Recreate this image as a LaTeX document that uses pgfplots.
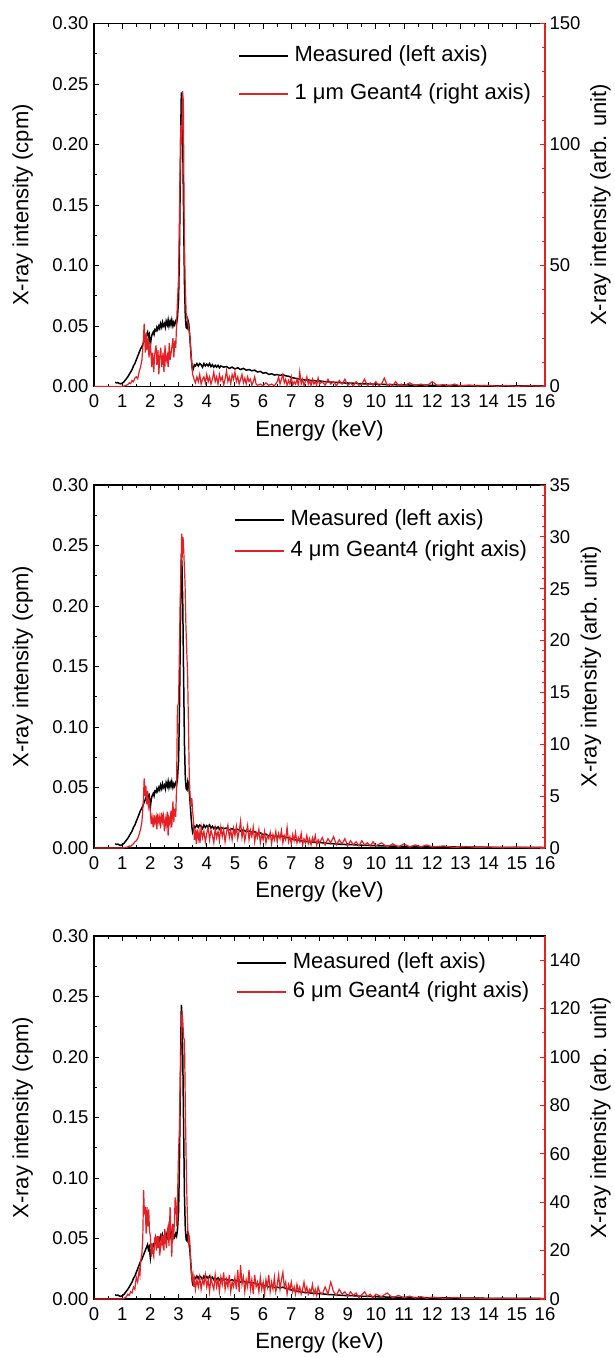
\documentclass[border=0pt]{standalone}
\usepackage{fontspec}
\setmainfont{Liberation Sans}
\usepackage{pgfplots}
\pgfplotsset{compat=1.18}
\usepackage{pgfplotstable}
\definecolor{myred}{RGB}{228,32,36}

\pgfplotstableread[row sep=\\]{
x y\\
0.75 0.0035\\ 0.8 0.003\\ 0.85 0.0032\\ 0.9 0.0025\\ 0.95 0.0022\\ 1.0 0.0028\\ 1.05 0.0035\\ 1.1 0.005\\ 1.15 0.0065\\ 1.2 0.008\\
1.25 0.010\\ 1.3 0.012\\ 1.35 0.014\\ 1.4 0.017\\ 1.45 0.019\\ 1.5 0.022\\ 1.55 0.025\\ 1.6 0.028\\ 1.65 0.031\\ 1.7 0.033\\
1.75 0.036\\ 1.8 0.039\\ 1.85 0.042\\ 1.9 0.045\\ 1.93 0.041\\ 1.96 0.043\\ 2.0 0.034\\ 2.03 0.040\\ 2.06 0.043\\ 2.1 0.045\\
2.13 0.043\\ 2.16 0.047\\ 2.2 0.046\\ 2.23 0.049\\ 2.26 0.047\\ 2.3 0.050\\ 2.33 0.048\\ 2.36 0.052\\ 2.4 0.049\\ 2.43 0.053\\
2.46 0.050\\ 2.5 0.052\\ 2.53 0.049\\ 2.56 0.054\\ 2.6 0.051\\ 2.63 0.055\\ 2.66 0.050\\ 2.7 0.054\\ 2.73 0.051\\ 2.76 0.055\\
2.8 0.050\\ 2.83 0.053\\ 2.86 0.051\\ 2.9 0.054\\ 2.93 0.052\\ 2.96 0.057\\ 3.0 0.072\\ 3.03 0.11\\ 3.06 0.17\\ 3.09 0.232\\
3.1 0.243\\ 3.12 0.235\\ 3.15 0.20\\ 3.18 0.14\\ 3.21 0.085\\ 3.24 0.058\\ 3.27 0.049\\ 3.3 0.048\\ 3.33 0.055\\ 3.36 0.052\\
3.39 0.044\\ 3.42 0.034\\ 3.45 0.024\\ 3.48 0.016\\ 3.5 0.013\\ 3.53 0.015\\ 3.56 0.018\\ 3.6 0.017\\ 3.65 0.019\\ 3.7 0.017\\
3.75 0.019\\ 3.8 0.018\\ 3.85 0.016\\ 3.9 0.019\\ 3.95 0.017\\ 4.0 0.0185\\ 4.05 0.017\\ 4.1 0.019\\ 4.15 0.0165\\ 4.2 0.018\\
4.25 0.016\\ 4.3 0.0175\\ 4.35 0.016\\ 4.4 0.0175\\ 4.45 0.0155\\ 4.5 0.017\\ 4.6 0.016\\ 4.7 0.0165\\ 4.8 0.015\\ 4.9 0.016\\
5.0 0.0145\\ 5.1 0.0155\\ 5.2 0.014\\ 5.3 0.015\\ 5.4 0.0135\\ 5.5 0.014\\ 5.6 0.013\\ 5.7 0.0135\\ 5.8 0.012\\ 5.9 0.0125\\
6.0 0.011\\ 6.1 0.0115\\ 6.2 0.010\\ 6.3 0.0105\\ 6.4 0.0095\\ 6.5 0.0098\\ 6.6 0.0092\\ 6.7 0.0098\\ 6.8 0.0088\\ 6.9 0.0085\\
7.0 0.0075\\ 7.1 0.007\\ 7.2 0.0065\\ 7.3 0.006\\ 7.4 0.0058\\ 7.5 0.0052\\ 7.6 0.0055\\ 7.7 0.0048\\ 7.8 0.005\\ 7.9 0.0044\\
8.0 0.0046\\ 8.2 0.004\\ 8.4 0.0036\\ 8.6 0.0034\\ 8.8 0.003\\ 9.0 0.0028\\ 9.2 0.0027\\ 9.4 0.0024\\ 9.6 0.0022\\ 9.8 0.0021\\
10.0 0.0019\\ 10.2 0.0018\\ 10.4 0.0016\\ 10.6 0.0015\\ 10.8 0.0014\\ 11.0 0.0013\\ 11.3 0.0012\\ 11.6 0.0011\\ 12.0 0.001\\ 12.5 0.0009\\
13.0 0.0008\\ 13.5 0.0007\\ 14.0 0.0006\\ 14.5 0.0006\\ 15.0 0.0005\\ 15.5 0.0005\\ 16.0 0.0004\\
}\measured

\pgfplotstableread[row sep=\\]{
x y\\
0 0\\ 0.5 0\\ 1.0 0\\ 1.1 0.3\\ 1.2 0.8\\ 1.25 1.5\\ 1.3 1.2\\ 1.35 2.5\\ 1.4 2.0\\ 1.45 3.5\\ 1.5 4.0\\ 1.55 3.2\\ 1.6 6.0\\ 1.65 8.0\\ 1.7 11\\ 1.75 19\\ 1.78 26\\ 1.82 14\\ 1.85 22\\ 1.88 15\\
1.92 20\\ 1.95 12\\ 2.0 18\\ 2.05 8\\ 2.08 14\\ 2.12 6\\ 2.15 13\\ 2.2 17\\ 2.23 9\\ 2.27 15\\ 2.3 5\\ 2.33 12\\ 2.37 16\\ 2.4 8\\ 2.45 14\\ 2.48 6\\ 2.52 17\\ 2.55 10\\ 2.6 13\\ 2.63 8\\
2.67 18\\ 2.7 11\\ 2.75 15\\ 2.8 20\\ 2.83 12\\ 2.87 19\\ 2.9 16\\ 2.95 32\\ 3.0 45\\ 3.05 85\\ 3.08 108\\ 3.11 100\\ 3.14 122\\ 3.17 118\\ 3.2 66\\ 3.23 45\\ 3.27 30\\ 3.3 28\\ 3.35 25\\ 3.4 21\\
3.45 12\\ 3.5 5\\ 3.55 3\\ 3.6 1.5\\ 3.65 4\\ 3.7 2\\ 3.75 5\\ 3.8 1\\ 3.85 3\\ 3.9 4\\ 3.95 1.5\\ 4.0 5\\ 4.05 2\\ 4.1 4\\ 4.15 1\\ 4.2 3\\ 4.25 6\\ 4.3 2\\ 4.35 4\\ 4.4 1\\
4.45 5\\ 4.5 2.5\\ 4.55 4\\ 4.6 0.5\\ 4.65 3\\ 4.7 6.5\\ 4.75 2\\ 4.8 4\\ 4.85 1\\ 4.9 5\\ 4.95 3\\ 5.0 6\\ 5.05 2\\ 5.1 4\\ 5.15 1\\ 5.2 3\\ 5.25 5\\ 5.3 1.5\\ 5.35 3.5\\ 5.4 1\\
5.45 4\\ 5.5 2\\ 5.55 3\\ 5.6 0.5\\ 5.65 2\\ 5.7 4\\ 5.75 1\\ 5.8 0.5\\ 5.9 1\\ 6.0 0.3\\ 6.1 1.5\\ 6.2 0.5\\ 6.3 1\\ 6.4 0.3\\ 6.5 2\\ 6.55 4\\ 6.6 1\\ 6.65 3\\ 6.7 5\\ 6.75 1.5\\
6.8 3\\ 6.85 0.5\\ 6.9 2.5\\ 6.95 1\\ 7.0 4\\ 7.05 0.5\\ 7.1 2\\ 7.15 1\\ 7.2 3\\ 7.25 0.3\\ 7.3 6\\ 7.35 1\\ 7.4 3\\ 7.45 0.5\\ 7.5 2\\ 7.55 4\\ 7.6 1\\ 7.65 2.5\\ 7.7 0.3\\ 7.75 3\\
7.8 1\\ 7.85 2\\ 7.9 0.5\\ 7.95 3.5\\ 8.0 1\\ 8.1 2\\ 8.2 0.5\\ 8.3 3\\ 8.4 1\\ 8.5 2\\ 8.6 0.3\\ 8.7 2.5\\ 8.8 1\\ 8.9 3\\ 9.0 0.5\\ 9.1 1.5\\ 9.2 0.3\\ 9.3 2\\ 9.4 0.5\\ 9.5 1\\
9.6 3\\ 9.7 0.3\\ 9.8 1.5\\ 9.9 0.5\\ 10.0 2\\ 10.1 0.3\\ 10.2 1\\ 10.3 3.5\\ 10.4 0.5\\ 10.5 1\\ 10.6 0.3\\ 10.7 2\\ 10.8 0.5\\ 10.9 1\\ 11.0 0.3\\ 11.2 1.5\\ 11.4 0.3\\ 11.6 1\\ 11.8 0.2\\ 12.0 2\\
12.2 0.3\\ 12.4 0.8\\ 12.6 0.2\\ 12.8 1\\ 13.0 0.2\\ 13.3 0.6\\ 13.6 0.2\\ 14.0 0.5\\ 14.3 0.1\\ 14.6 0.4\\ 15.0 0.1\\ 15.5 0.3\\ 16.0 0.1\\
}\simA

\pgfplotstableread[row sep=\\]{
x y\\
0 0\\ 0.5 0\\ 1.0 0\\ 1.1 0.05\\ 1.2 0.1\\ 1.25 0.2\\ 1.3 0.15\\ 1.35 0.3\\ 1.4 0.4\\ 1.45 0.6\\ 1.5 0.7\\ 1.55 0.9\\ 1.6 1.3\\ 1.65 1.8\\ 1.7 2.5\\ 1.75 4.5\\ 1.78 6.7\\ 1.81 5.0\\ 1.84 6.0\\ 1.87 4.2\\
1.9 5.5\\ 1.93 4.0\\ 1.96 4.5\\ 2.0 3.4\\ 2.03 2.3\\ 2.06 3.0\\ 2.1 2.0\\ 2.13 3.2\\ 2.16 2.4\\ 2.2 3.0\\ 2.23 1.8\\ 2.26 3.3\\ 2.3 2.5\\ 2.33 3.0\\ 2.36 1.9\\ 2.4 3.4\\ 2.43 2.6\\ 2.46 3.1\\ 2.5 1.6\\ 2.53 2.8\\
2.56 2.2\\ 2.6 3.5\\ 2.63 1.2\\ 2.66 2.9\\ 2.7 2.3\\ 2.73 3.6\\ 2.76 2.0\\ 2.8 4.5\\ 2.83 2.5\\ 2.86 3.8\\ 2.9 3.0\\ 2.93 6.0\\ 2.96 13.6\\ 3.0 14\\ 3.03 19\\ 3.06 24.2\\ 3.09 27\\ 3.11 30.3\\ 3.13 28\\ 3.15 30\\
3.17 29.6\\ 3.2 27.5\\ 3.23 25.5\\ 3.26 21.5\\ 3.29 19\\ 3.32 16.9\\ 3.35 12\\ 3.38 7\\ 3.41 4.9\\ 3.44 4.0\\ 3.47 4.8\\ 3.5 3.5\\ 3.53 2.7\\ 3.56 0.8\\ 3.6 1.5\\ 3.63 0.4\\ 3.66 1.8\\ 3.7 0.9\\ 3.73 1.5\\ 3.76 0.5\\
3.8 2.0\\ 3.85 1.0\\ 3.9 1.6\\ 3.95 0.6\\ 4.0 1.4\\ 4.05 2.0\\ 4.1 0.8\\ 4.15 1.7\\ 4.2 1.2\\ 4.25 0.5\\ 4.3 1.9\\ 4.35 1.0\\ 4.4 1.6\\ 4.45 0.7\\ 4.5 2.0\\ 4.55 1.1\\ 4.6 1.8\\ 4.65 0.6\\ 4.7 1.5\\ 4.75 2.2\\
4.8 1.0\\ 4.85 1.7\\ 4.9 0.8\\ 4.95 1.9\\ 5.0 1.2\\ 5.05 2.1\\ 5.1 0.9\\ 5.15 1.6\\ 5.2 2.6\\ 5.25 1.0\\ 5.3 1.8\\ 5.35 0.7\\ 5.4 1.5\\ 5.45 2.2\\ 5.5 0.8\\ 5.55 1.7\\ 5.6 1.1\\ 5.65 2.0\\ 5.7 0.6\\ 5.75 1.5\\
5.8 1.0\\ 5.85 1.8\\ 5.9 0.5\\ 5.95 1.3\\ 6.0 0.8\\ 6.05 1.6\\ 6.1 0.5\\ 6.15 1.2\\ 6.2 0.9\\ 6.25 1.5\\ 6.3 0.4\\ 6.35 1.3\\ 6.4 0.8\\ 6.45 1.6\\ 6.5 0.6\\ 6.55 1.4\\ 6.6 0.9\\ 6.65 1.7\\ 6.7 0.5\\ 6.75 1.2\\
6.8 0.8\\ 6.85 2.0\\ 6.9 0.6\\ 6.95 1.1\\ 7.0 0.4\\ 7.05 1.3\\ 7.1 0.7\\ 7.15 1.5\\ 7.2 0.5\\ 7.25 1.0\\ 7.3 0.6\\ 7.35 1.4\\ 7.4 0.3\\ 7.45 0.9\\ 7.5 0.5\\ 7.55 1.2\\ 7.6 0.4\\ 7.65 0.9\\ 7.7 0.3\\ 7.75 1.0\\
7.8 0.6\\ 7.85 1.2\\ 7.9 0.3\\ 7.95 0.8\\ 8.0 0.5\\ 8.1 1.0\\ 8.2 0.3\\ 8.3 0.9\\ 8.4 0.5\\ 8.5 1.1\\ 8.6 0.3\\ 8.7 0.8\\ 8.8 0.4\\ 8.9 0.9\\ 9.0 0.2\\ 9.1 0.7\\ 9.2 0.3\\ 9.3 0.6\\ 9.4 0.2\\ 9.5 0.7\\
9.6 0.3\\ 9.7 0.5\\ 9.8 0.2\\ 9.9 0.6\\ 10.0 0.2\\ 10.2 0.5\\ 10.4 0.1\\ 10.6 0.4\\ 10.8 0.1\\ 11.0 0.4\\ 11.2 0.1\\ 11.4 0.3\\ 11.6 0.1\\ 11.8 0.3\\ 12.0 0.1\\ 12.4 0.2\\ 12.8 0.05\\ 13.2 0.15\\ 13.6 0.05\\ 14.0 0.1\\
14.5 0.03\\ 15.0 0.08\\ 15.5 0.02\\ 16.0 0.05\\
}\simB

\pgfplotstableread[row sep=\\]{
x y\\
0 0\\ 0.5 0\\ 1.0 0\\ 1.1 0.5\\ 1.15 1\\ 1.2 2\\ 1.25 1.5\\ 1.3 3\\ 1.35 2.5\\ 1.4 5\\ 1.45 4\\ 1.5 9\\ 1.55 7\\ 1.6 12\\ 1.63 10\\ 1.66 16\\ 1.7 19\\ 1.73 25\\ 1.76 45\\ 1.79 35\\
1.82 38\\ 1.85 27\\ 1.88 38\\ 1.91 30\\ 1.94 37\\ 1.97 28\\ 2.0 26\\ 2.03 17.5\\ 2.06 23\\ 2.09 19\\ 2.12 17.5\\ 2.15 25\\ 2.18 26\\ 2.21 20\\ 2.24 26\\ 2.27 21\\ 2.3 26\\ 2.33 18\\ 2.36 21\\ 2.39 27\\
2.42 23\\ 2.45 26\\ 2.48 20\\ 2.51 29\\ 2.54 24\\ 2.57 21\\ 2.6 28\\ 2.63 30\\ 2.66 22\\ 2.7 38\\ 2.73 26\\ 2.76 17.5\\ 2.79 31\\ 2.82 25\\ 2.85 31\\ 2.88 42\\ 2.91 38\\ 2.94 30\\ 2.97 45\\ 3.0 61\\
3.03 70\\ 3.06 90\\ 3.09 105\\ 3.12 119\\ 3.15 115\\ 3.18 108\\ 3.21 107\\ 3.24 80\\ 3.27 57\\ 3.3 40\\ 3.33 28\\ 3.36 23\\ 3.39 25\\ 3.42 18\\ 3.45 12\\ 3.48 8\\ 3.51 10\\ 3.54 5\\ 3.57 8\\ 3.6 4\\
3.65 8\\ 3.7 5\\ 3.75 9\\ 3.8 4\\ 3.85 8\\ 3.9 6\\ 3.95 10\\ 4.0 5\\ 4.05 8\\ 4.1 3\\ 4.15 9\\ 4.2 6\\ 4.25 4\\ 4.3 10\\ 4.35 5\\ 4.4 8\\ 4.45 3\\ 4.5 9\\ 4.55 6\\ 4.6 11\\
4.65 4\\ 4.7 8\\ 4.75 5\\ 4.8 10\\ 4.85 3\\ 4.9 7\\ 4.95 5\\ 5.0 9\\ 5.05 4\\ 5.1 12\\ 5.15 3\\ 5.2 14\\ 5.25 6\\ 5.3 9\\ 5.35 3\\ 5.4 8\\ 5.45 5\\ 5.5 12\\ 5.55 4\\ 5.6 8\\
5.65 2\\ 5.7 10\\ 5.75 5\\ 5.8 7\\ 5.85 3\\ 5.9 9\\ 5.95 4\\ 6.0 7\\ 6.05 2\\ 6.1 8\\ 6.15 5\\ 6.2 10\\ 6.25 3\\ 6.3 7\\ 6.35 4\\ 6.4 9\\ 6.45 3\\ 6.5 6\\ 6.55 10\\ 6.6 4\\
6.65 8\\ 6.7 11\\ 6.75 5\\ 6.8 7\\ 6.85 2\\ 6.9 6\\ 6.95 4\\ 7.0 7\\ 7.05 3\\ 7.1 5\\ 7.15 2\\ 7.2 6\\ 7.25 3\\ 7.3 5\\ 7.35 2\\ 7.4 4\\ 7.45 7\\ 7.5 3\\ 7.55 5\\ 7.6 2\\
7.65 4\\ 7.7 3\\ 7.75 6\\ 7.8 2\\ 7.85 4\\ 7.9 1.5\\ 7.95 5\\ 8.0 3\\ 8.1 2\\ 8.2 5\\ 8.3 2\\ 8.4 7\\ 8.5 3\\ 8.6 1.5\\ 8.7 4\\ 8.8 2\\ 8.9 3\\ 9.0 1\\ 9.1 3\\ 9.2 1.5\\
9.3 2.5\\ 9.4 0.5\\ 9.6 3\\ 9.7 1\\ 9.8 2\\ 9.9 0.5\\ 10.0 2\\ 10.2 1\\ 10.4 2.5\\ 10.6 0.5\\ 10.8 1.5\\ 11.0 0.5\\ 11.2 1.2\\ 11.4 0.4\\ 11.6 1\\ 11.8 0.3\\ 12.0 0.8\\ 12.4 0.3\\ 12.8 0.6\\ 13.2 0.2\\
13.6 0.4\\ 14.0 0.1\\ 14.5 0.3\\ 15.0 0.1\\ 15.5 0.2\\ 16.0 0.1\\
}\simC

\pgfplotsset{
  /pgf/number format/assume math mode=true,
  common/.style={
    scale only axis, width=451pt, height=363pt, anchor=south west,
    xmin=0, xmax=16,
    tick align=inside,
    major tick length=5pt, minor tick length=3pt,
    tick label style={font=\fontsize{18.5}{22}\selectfont},
    label style={font=\fontsize{22}{26}\selectfont},
  },
  leftax/.style={
    common,
    ymin=0, ymax=0.30,
    xtick={0,1,...,16}, minor x tick num=1,
    ytick={0,0.05,0.1,0.15,0.2,0.25,0.3},
    yticklabels={0.00,0.05,0.10,0.15,0.20,0.25,0.30},
    minor y tick num=1,
    ytick pos=left,
    axis line style={line width=1.3pt},
    tick style={black, line width=1pt},
    xticklabel style={yshift=-5pt},
    yticklabel style={xshift=-2pt},
    xlabel={Energy (keV)}, ylabel={X-ray intensity (cpm)},
    xlabel style={at={(axis description cs:0.5,-0.122)}, anchor=center},
    ylabel style={at={(axis description cs:-0.158,0.5)}, anchor=center},
  },
  rightax/.style={
    common,
    ymin=0,
    axis x line=none, axis y line*=right,
    y axis line style={myred, line width=1.3pt},
    tick style={myred, line width=1pt},
    yticklabel style={xshift=1pt},
    ylabel={X-ray intensity (arb. unit)},
    legend image code/.code={\draw[##1] (0pt,0pt) -- (49pt,0pt); \path (55pt,0pt);},
    legend cell align=left,
    legend style={draw=none, fill=none, inner sep=0pt, anchor=north west,
      font=\fontsize{22}{26}\selectfont,
      nodes={inner sep=0pt, text height=16pt, text depth=5pt},
      cells={anchor=west}},
  },
}

\begin{document}
\begin{tikzpicture}
\useasboundingbox (0,0) rectangle (614pt,-1357pt);

% ---------- panel 1 ----------
\begin{axis}[leftax, at={(94pt,-386.5pt)}]
\addplot[black, line width=1.5pt] table[x=x,y=y] {\measured};
\end{axis}
\begin{axis}[rightax, at={(94pt,-386.5pt)}, ymax=150, ytick={0,50,100,150}, minor y tick num=4,
  ylabel style={at={(axis description cs:1.123,0.5)}, anchor=center},
  legend style={at={(axis description cs:0.319,0.94)}, row sep=17pt}]
\addlegendimage{black, line width=1.6pt}
\addlegendentry{Measured (left axis)}
\addlegendimage{myred, line width=1.6pt}
\addlegendentry{1 μm Geant4 (right axis)}
\addplot[myred, line width=1.2pt, forget plot] table[x=x,y=y] {\simA};
\end{axis}

% ---------- panel 2 ----------
\begin{axis}[leftax, at={(94pt,-848pt)}]
\addplot[black, line width=1.5pt] table[x=x,y=y] {\measured};
\end{axis}
\begin{axis}[rightax, at={(94pt,-848pt)}, ymax=35, ytick={0,5,...,35}, minor y tick num=4,
  ylabel style={at={(axis description cs:1.102,0.5)}, anchor=center},
  legend style={at={(axis description cs:0.31,0.9335)}, row sep=10pt}]
\addlegendimage{black, line width=1.6pt}
\addlegendentry{Measured (left axis)}
\addlegendimage{myred, line width=1.6pt}
\addlegendentry{4 μm Geant4 (right axis)}
\addplot[myred, line width=1.2pt, forget plot] table[x=x,y=y] {\simB};
\end{axis}

% ---------- panel 3 ----------
\begin{axis}[leftax, at={(94pt,-1299pt)}]
\addplot[black, line width=1.5pt] table[x=x,y=y] {\measured};
\end{axis}
\begin{axis}[rightax, at={(94pt,-1299pt)}, ymax=150, ytick={0,20,...,140}, minor y tick num=1,
  ylabel style={at={(axis description cs:1.123,0.5)}, anchor=center},
  legend style={at={(axis description cs:0.315,0.955)}, row sep=8pt}]
\addlegendimage{black, line width=1.6pt}
\addlegendentry{Measured (left axis)}
\addlegendimage{myred, line width=1.6pt}
\addlegendentry{6 μm Geant4 (right axis)}
\addplot[myred, line width=1.2pt, forget plot] table[x=x,y=y] {\simC};
\end{axis}
\end{tikzpicture}
\end{document}
